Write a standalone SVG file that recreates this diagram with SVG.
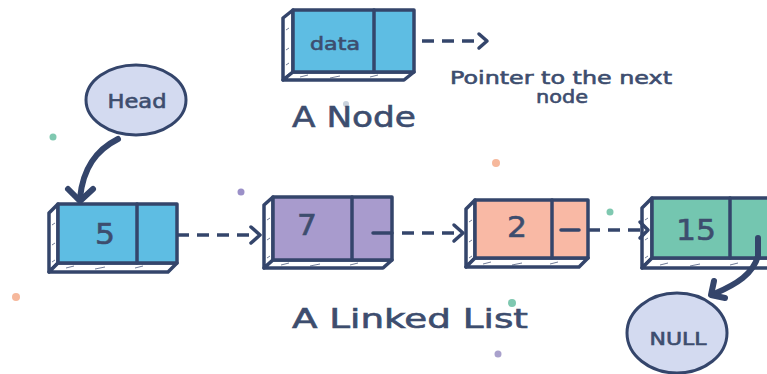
<svg xmlns="http://www.w3.org/2000/svg" width="767" height="374" viewBox="0 0 767 374">
<defs>
<style>
.ol{stroke:#34456b;stroke-width:3.5;stroke-linejoin:round;stroke-linecap:round}
.face{fill:#ffffff}
.hatch{stroke:#34456b;stroke-width:1;fill:none;opacity:.7}
.blue{fill:#5ebde3}
.purple{fill:#a89bcd}
.salmon{fill:#f9b9a5}
.teal{fill:#74c6b0}
.t{font-family:"DejaVu Sans","Noto Sans",sans-serif;fill:#3d4d6e;stroke:#3d4d6e;stroke-width:0.6}
.num{font-size:29px}
.dash{fill:none;stroke:#34456b;stroke-width:3.5;stroke-dasharray:12 8}
.head{fill:none;stroke:#34456b;stroke-width:3.5;stroke-linecap:round;stroke-linejoin:round}
.thick{fill:none;stroke:#34456b;stroke-width:6;stroke-linecap:round;stroke-linejoin:round}
.ell{fill:#d3daf0;stroke:#34456b;stroke-width:3}
</style>
</defs>
<rect width="767" height="374" fill="#ffffff"/>

<g id="decor">
<circle cx="53" cy="137" r="3.5" fill="#7fc8b0"/>
<circle cx="346" cy="104" r="3" fill="#c9d2dc"/>
<circle cx="241" cy="192" r="3.5" fill="#9b90c8"/>
<circle cx="496" cy="163" r="4" fill="#f6b89c"/>
<circle cx="610" cy="212" r="3.5" fill="#7fc8b0"/>
<circle cx="16" cy="297" r="4" fill="#f6b89c"/>
<circle cx="512" cy="303" r="4" fill="#7fc8b0"/>
<circle cx="498" cy="354" r="3.5" fill="#a9a1cc"/>
</g>

<g id="node-template">
<polygon class="ol face" points="293,10 283,18 283,80 293,72"/>
<polygon class="ol face" points="293,72 283,80 404,80 414,72"/>
<path class="hatch" d="M286,30 l3,-2 M286,50 l3,-2 M286,65 l3,-2 M300,77 l8,-2 M330,78 l10,-2 M370,77 l8,-2"/>
<rect class="ol blue" x="293" y="10" width="121" height="62"/>
<line class="ol" x1="374" y1="10" x2="374" y2="72"/>
<text class="t" x="335" y="50" font-size="18" text-anchor="middle" textLength="50" lengthAdjust="spacingAndGlyphs">data</text>
</g>

<g id="head">
<ellipse class="ell" cx="136" cy="100" rx="50" ry="35"/>
<text class="t" x="137" y="108" font-size="19" text-anchor="middle" textLength="59" lengthAdjust="spacingAndGlyphs">Head</text>
</g>

<g id="n5">
<polygon class="ol face" points="58,204 49,213 49,272 58,263"/>
<polygon class="ol face" points="58,263 49,272 168,272 177,263"/>
<path class="hatch" d="M52,225 l3,-2 M52,245 l3,-2 M52,262 l3,-2 M66,268 l8,-2 M95,269 l10,-2 M135,268 l8,-2"/>
<rect class="ol blue" x="58" y="204" width="119" height="59"/>
<line class="ol" x1="137" y1="204" x2="137" y2="263"/>
<text class="t num" x="105" y="244" text-anchor="middle" textLength="20" lengthAdjust="spacingAndGlyphs">5</text>
</g>

<g id="n7">
<polygon class="ol face" points="273,197 264,205 264,268 273,260"/>
<polygon class="ol face" points="273,260 264,268 383,268 392,260"/>
<path class="hatch" d="M267,220 l3,-2 M267,240 l3,-2 M267,258 l3,-2 M281,265 l8,-2 M310,266 l10,-2 M350,265 l8,-2"/>
<rect class="ol purple" x="273" y="197" width="119" height="63"/>
<line class="ol" x1="352" y1="197" x2="352" y2="260"/>
<text class="t num" x="307" y="235" text-anchor="middle" textLength="20" lengthAdjust="spacingAndGlyphs">7</text>
</g>

<g id="n2">
<polygon class="ol face" points="475,200 466,209 466,267 475,258"/>
<polygon class="ol face" points="475,258 466,267 579,267 588,258"/>
<path class="hatch" d="M469,222 l3,-2 M469,242 l3,-2 M469,258 l3,-2 M483,264 l8,-2 M512,265 l10,-2 M550,264 l8,-2"/>
<rect class="ol salmon" x="475" y="200" width="113" height="58"/>
<line class="ol" x1="552" y1="200" x2="552" y2="258"/>
<text class="t num" x="517" y="237" text-anchor="middle" textLength="20" lengthAdjust="spacingAndGlyphs">2</text>
</g>

<g id="n15">
<polygon class="ol face" points="652,198 642,208 642,268 652,258"/>
<polygon class="ol face" points="652,258 642,268 770,268 780,258"/>
<path class="hatch" d="M645,220 l3,-2 M645,240 l3,-2 M645,258 l3,-2 M660,265 l8,-2 M690,266 l10,-2 M730,265 l8,-2"/>
<rect class="ol teal" x="652" y="198" width="128" height="60"/>
<line class="ol" x1="730" y1="198" x2="730" y2="258"/>
<text class="t num" x="696" y="240" text-anchor="middle" textLength="40" lengthAdjust="spacingAndGlyphs">15</text>
</g>

<g id="null">
<ellipse class="ell" cx="677" cy="333" rx="50" ry="40"/>
<text class="t" x="678" y="345" font-size="17" text-anchor="middle" textLength="57" lengthAdjust="spacingAndGlyphs">NULL</text>
</g>

<g id="connectors">
<path class="dash" d="M422,41 H480"/>
<path class="head" d="M479,34 L487,41 L479,48"/>
<path class="thick" d="M118,139 C96,150 83,168 80,198"/>
<path class="thick" d="M68,189 L80,201 L93,189"/>
<path class="dash" d="M177,235 H253"/>
<path class="head" d="M251,227 L260,235 L251,243"/>
<path class="head" d="M373,233 H392"/>
<path class="dash" d="M402,233 H456"/>
<path class="head" d="M454,225 L463,233 L454,241"/>
<path class="head" d="M561,230 H579"/>
<path class="dash" d="M588,230 H641"/>
<path class="head" d="M640,222 L648,230 L640,238"/>
<path class="thick" d="M758,238 L758,256 C753,274 737,284 714,294"/>
<path class="thick" d="M714,281 L711,295 L725,298"/>
</g>

<g id="labels">
<text class="t" x="561" y="84" font-size="18" text-anchor="middle" textLength="222" lengthAdjust="spacingAndGlyphs">Pointer to the next</text>
<text class="t" x="562" y="103" font-size="18" text-anchor="middle" textLength="52" lengthAdjust="spacingAndGlyphs">node</text>
<text class="t" x="292" y="127" font-size="29" textLength="124" lengthAdjust="spacingAndGlyphs">A Node</text>
<text class="t" x="292" y="328" font-size="26" textLength="236" lengthAdjust="spacingAndGlyphs">A Linked List</text>
</g>
</svg>
